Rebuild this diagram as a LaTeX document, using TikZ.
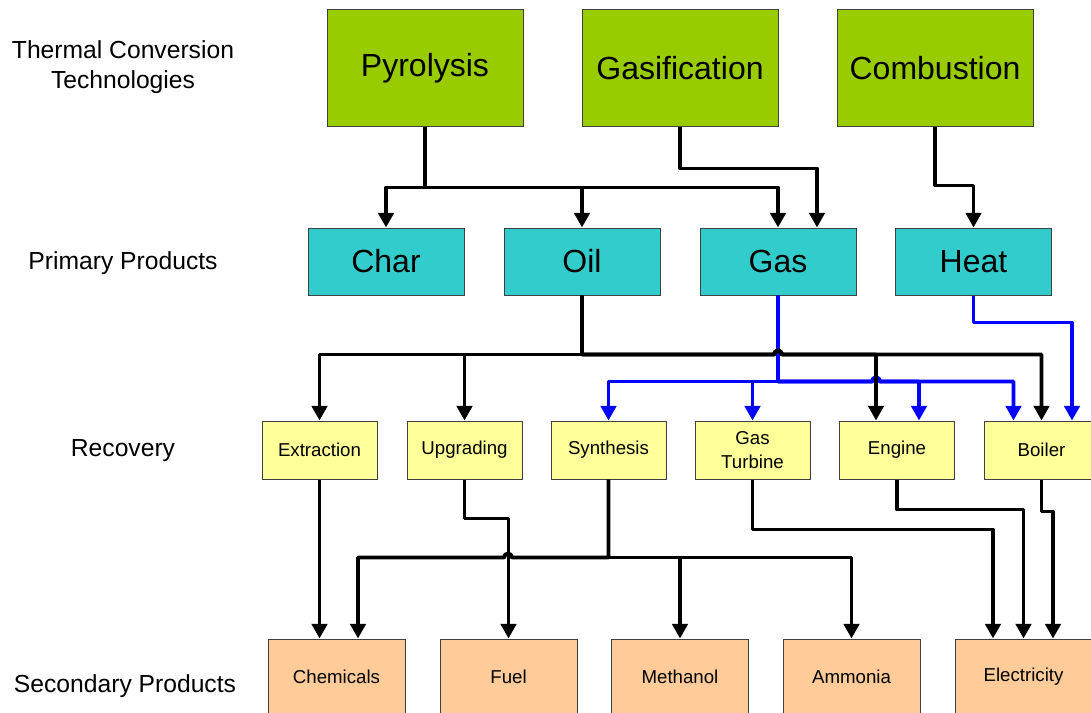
\documentclass[tikz,border=0pt]{standalone}
\usepackage{fontspec}
\setmainfont{Liberation Sans}
\usepackage{tikz}
\usetikzlibrary{arrows.meta,calc}
\definecolor{techgreen}{HTML}{99CC00}
\definecolor{primteal}{HTML}{33CCCC}
\definecolor{recyellow}{HTML}{FFFF99}
\definecolor{secpeach}{HTML}{FFCC99}
\tikzset{
  box/.style={draw=black!75, line width=0.75pt, inner sep=0pt, align=center},
  techbox/.style={box, fill=techgreen, minimum width=147pt, minimum height=87.75pt,
    font=\fontsize{24}{28}\selectfont},
  primbox/.style={box, fill=primteal, minimum width=117pt, minimum height=50.25pt,
    font=\fontsize{24}{28}\selectfont},
  recbox/.style={box, fill=recyellow, minimum width=86.25pt, minimum height=43.5pt,
    font=\fontsize{14}{18}\selectfont},
  secbox/.style={box, fill=secpeach, minimum width=102.75pt, minimum height=57pt,
    font=\fontsize{14}{18}\selectfont},
  rowlabel/.style={align=center, font=\fontsize{18.5}{23}\selectfont},
  flow/.style={draw, line width=2.9pt, line join=round, -{Triangle[width=11.5pt,length=11pt]}},
  gasflow/.style={flow, blue}
}

\begin{document}
\begin{tikzpicture}[x=0.75pt, y=-0.75pt]
    \clip (0,0) rectangle (1091,713);

    %row labels
    \node[rowlabel] (lbltech) at (123,67) {Thermal Conversion\\Technologies};
    \node[rowlabel] (lblprim) at (123,263) {Primary Products};
    \node[rowlabel] (lblrec) at (123,451) {Recovery};
    \node[rowlabel] (lblsec) at (125,686) {Secondary Products};

    %thermal conversion technologies
    \node[techbox] (pyro) at (425,68.5) {Pyrolysis};
    \node[techbox] (gasif) at (680,68.5) {Gasification};
    \node[techbox] (comb) at (935,68.5) {Combustion};

    %primary products
    \node[primbox] (char) at (386,261.5) {Char};
    \node[primbox] (oil) at (582,261.5) {Oil};
    \node[primbox] (gas) at (778,261.5) {Gas};
    \node[primbox] (heat) at (973.5,261.5) {Heat};

    %recovery
    \node[recbox] (extr) at (319.5,450) {Extraction};
    \node[recbox] (upg) at (464.5,450) {Upgrading};
    \node[recbox] (synth) at (608.5,450) {Synthesis};
    \node[recbox] (gturb) at (752.5,450) {Gas\\Turbine};
    \node[recbox] (eng) at (897,450) {Engine};
    \node[recbox] (boil) at (1041.5,450) {Boiler};

    %secondary products
    \node[secbox] (chem) at (336.5,677) {Chemicals};
    \node[secbox] (fuel) at (508.5,677) {Fuel};
    \node[secbox] (meth) at (680,677) {Methanol};
    \node[secbox] (ammo) at (851.5,677) {Ammonia};
    \node[secbox] (elec) at (1023.5,677) {Electricity};

    %technologies -> primary products
    \draw[flow] (pyro.south) -- ++(0,60) -| (char.north);
    \draw[flow] (pyro.south) ++(0,60) -| (oil.north);
    \draw[flow] (pyro.south) ++(0,60) -| (gas.north);
    \draw[flow] (gasif.south) -- ++(0,41) -| ($(gas.north)+(39,0)$);
    \draw[flow] (comb.south) -- ++(0,58) -| (heat.north);

    %gas -> recovery (blue)
    \draw[gasflow] (gas.south) -- ++(0,86) -| (synth.north);
    \draw[gasflow] (gas.south) -- ++(0,86) -| (gturb.north);
    \draw[gasflow] (gas.south) -- ++(0,86) -- ++(94,0)
        arc[start angle=180, end angle=0, radius=3pt] -| ($(eng.north)+(22,0)$);
    \draw[gasflow] (gas.south) -- ++(0,86) -- ++(94,0)
        arc[start angle=180, end angle=0, radius=3pt] -| ($(boil.north)+(-28,0)$);
    \draw[gasflow] (heat.south) -- ++(0,27) -| ($(boil.north)+(30.5,0)$);

    %oil -> recovery (black, hops over the gas line)
    \draw[flow] (oil.south) -- ++(0,59) -| (extr.north);
    \draw[flow] (oil.south) -- ++(0,59) -| (upg.north);
    \draw[flow] (oil.south) -- ++(0,59) -- ++(192,0)
        arc[start angle=180, end angle=0, radius=3pt] -| ($(eng.north)+(-21,0)$);
    \draw[flow] (oil.south) -- ++(0,59) -- ++(192,0)
        arc[start angle=180, end angle=0, radius=3pt] -| (boil.north);

    %recovery -> secondary products
    \draw[flow] (extr.south) -- (extr.south |- chem.north);
    \draw[flow] (upg.south) -- ++(0,39) -| (fuel.north);
    \draw[flow] (synth.south) -- ++(0,78) -- ++(-96.5,0)
        arc[start angle=0, end angle=180, radius=3pt] -| ($(chem.north)+(21.5,0)$);
    \draw[flow] (synth.south) -- ++(0,78) -| (meth.north);
    \draw[flow] (synth.south) -- ++(0,78) -| (ammo.north);
    \draw[flow] (gturb.south) -- ++(0,50) -| ($(elec.north)+(-30.5,0)$);
    \draw[flow] (eng.south) -- ++(0,30) -| (elec.north);
    \draw[flow] (boil.south) -- ++(0,32) -| ($(elec.north)+(29.5,0)$);
\end{tikzpicture}
\end{document}
